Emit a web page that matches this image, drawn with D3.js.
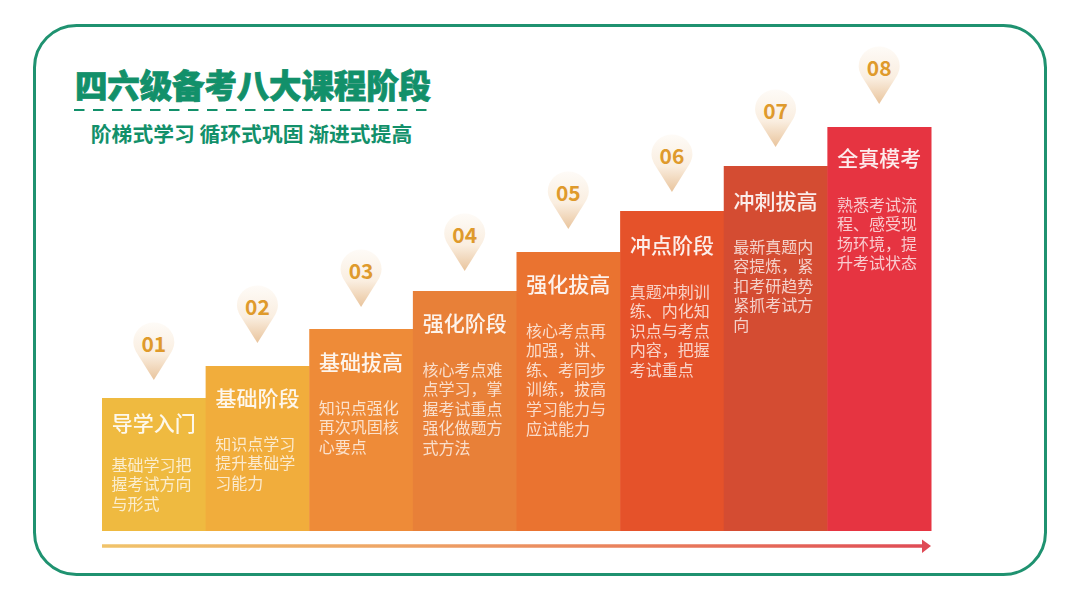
<!DOCTYPE html>
<html><head><meta charset="utf-8">
<script src="https://cdnjs.cloudflare.com/ajax/libs/d3/7.8.5/d3.min.js"></script>
<style>html,body{margin:0;background:#fff}svg{display:block}text{font-family:"Noto Sans CJK SC","Noto Sans",sans-serif}</style>
</head><body><svg id="c" width="1080" height="600"></svg>
<script>
const mainTitle = "四六级备考八大课程阶段";
const subTitle = "阶梯式学习 循环式巩固 渐进式提高";
const numbers = ["01","02","03","04","05","06","07","08"];
const stages = ["导学入门","基础阶段","基础拔高","强化阶段","强化拔高","冲点阶段","冲刺拔高","全真模考"];
const heights = [133,165,202,240,279,320,365,404];
const pinTips = [151,188,224,260,302,339,384,427];
const descriptions = [
 ["基础学习把","握考试方向","与形式"],
 ["知识点学习","提升基础学","习能力"],
 ["知识点强化","再次巩固核","心要点"],
 ["核心考点难","点学习，掌","握考试重点","强化做题方","式方法"],
 ["核心考点再","加强，讲、","练、考同步","训练，拔高","学习能力与","应试能力"],
 ["真题冲刺训","练、内化知","识点与考点","内容，把握","考试重点"],
 ["最新真题内","容提炼，紧","扣考研趋势","紧抓考试方","向"],
 ["熟悉考试流","程、感受现","场环境，提","升考试状态"]
];
const barColors = ["#efba40","#f1ad3c","#ee8b38","#e88038","#ea7330","#e5522a","#d44c32","#e63441"];

const titleGap = [25,32,33,32,32,34,35,31];
const descGap = [42,46,46,47,47,47,46,47];

const svg = d3.select("#c");
const defs = svg.append("defs");
const x = d3.scaleBand().domain(stages).range([102,931]).padding(0);
const y = d3.scaleLinear().domain([0,404]).range([531,127]);

const pg = defs.append("linearGradient").attr("id","pin").attr("x1",0).attr("y1",0).attr("x2",0).attr("y2",1);
pg.append("stop").attr("offset","0%").attr("stop-color","#fefbf7");
pg.append("stop").attr("offset","55%").attr("stop-color","#faeee0");
pg.append("stop").attr("offset","100%").attr("stop-color","#e9c49c");
const ag = defs.append("linearGradient").attr("id","arrow").attr("gradientUnits","userSpaceOnUse")
  .attr("x1",102).attr("y1",0).attr("x2",931).attr("y2",0);
[["0%","#f0c36a"],["35%","#eea566"],["65%","#e97f5c"],["100%","#df4a55"]].forEach(d=>
  ag.append("stop").attr("offset",d[0]).attr("stop-color",d[1]));
defs.append("filter").attr("id","soft").attr("x","-5%").attr("y","-5%").attr("width","110%").attr("height","110%")
  .append("feGaussianBlur").attr("stdDeviation",0.35);

svg.append("rect").attr("x",34.5).attr("y",25.5).attr("width",1011).attr("height",549).attr("rx",42)
  .attr("fill","#fff").attr("stroke","#1f9270").attr("stroke-width",3);

svg.append("text").attr("x",253).attr("y",98).attr("text-anchor","middle")
  .attr("font-size",32.5).attr("font-weight",900).attr("fill","#12906a").attr("stroke","#12906a").attr("stroke-width",0.8)
  .attr("textLength",356).text(mainTitle);
svg.append("line").attr("x1",74).attr("x2",432).attr("y1",110).attr("y2",110)
  .attr("stroke","#12906a").attr("stroke-width",2).attr("stroke-dasharray","10.5 8.5");
svg.append("text").attr("x",251.5).attr("y",142).attr("text-anchor","middle")
  .attr("font-size",20.8).attr("font-weight",700).attr("fill","#12906a").text(subTitle);

svg.append("g").selectAll("rect").data(stages).join("rect")
  .attr("x",d=>x(d)).attr("width",x.bandwidth()+0.5)
  .attr("y",(d,i)=>y(heights[i])).attr("height",(d,i)=>y(0)-y(heights[i]))
  .attr("fill",(d,i)=>barColors[i]);

const labels = svg.append("g").attr("filter","url(#soft)").selectAll("g").data(stages).join("g");
labels.append("text")
  .attr("x",d=>x(d)+x.bandwidth()/2).attr("y",(d,i)=>y(heights[i])+titleGap[i]+7.5)
  .attr("text-anchor","middle").attr("font-size",21).attr("font-weight",500)
  .attr("fill","#fff").attr("fill-opacity",0.9).text(d=>d);
labels.each(function(d,i){
  d3.select(this).selectAll("text.desc").data(descriptions[i]).join("text").attr("class","desc")
    .attr("x",x(d)+9.5).attr("y",(t,k)=>y(heights[i])+titleGap[i]+descGap[i]+5.5+k*19.6)
    .attr("font-size",16).attr("font-weight",400).attr("fill","#fff").attr("fill-opacity",0.74).text(t=>t);
});

const pinPath = "M0,0 L-17,-27 C-20,-32 -20.5,-36 -20.5,-38 A20.5,19.5 0 0 1 20.5,-38 C20.5,-36 20,-32 17,-27 Z";
const pins = svg.append("g").selectAll("g").data(numbers).join("g")
  .attr("transform",(d,i)=>`translate(${x(stages[i])+x.bandwidth()/2},${y(pinTips[i])})`);
pins.append("path").attr("d",pinPath).attr("fill","url(#pin)");
pins.append("text").attr("y",-28.5).attr("text-anchor","middle").attr("font-size",21).attr("font-weight",700)
  .attr("fill","#df9a2c").text(d=>d);

svg.append("line").attr("x1",102).attr("x2",924).attr("y1",546).attr("y2",546.01)
  .attr("stroke","url(#arrow)").attr("stroke-width",3.5);
svg.append("path").attr("d","M922,539.5 L931,546 L922,553 Z").attr("fill","#df4a55");
</script></body></html>
